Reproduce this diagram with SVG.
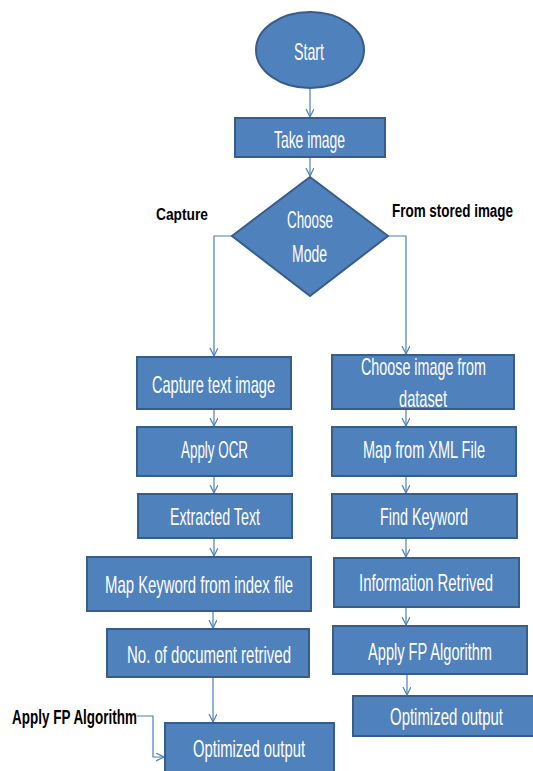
<svg xmlns="http://www.w3.org/2000/svg" width="533" height="771" viewBox="0 0 533 771">
<style>
.n{fill:#4F81BD;stroke:#385D8A;stroke-width:2}
.t{fill:#FFFFFF;font-family:"Liberation Sans Narrow","Liberation Sans",Arial,sans-serif;font-size:18px;text-anchor:middle}
.l{fill:#000000;font-family:"Liberation Sans Narrow","Liberation Sans",Arial,sans-serif;font-weight:bold}
.c{fill:none;stroke:#4A7EBB;stroke-width:1.2}
</style>
<defs>
<marker id="a" markerWidth="10" markerHeight="10" refX="8" refY="4" orient="auto" markerUnits="userSpaceOnUse">
<path d="M0,0 L8,4 L0,8" fill="none" stroke="#4A7EBB" stroke-width="1.2"/>
</marker>
</defs>
<rect width="533" height="771" fill="#FFFFFF"/>
<g id="connectors">
<path class="c" d="M310,88 V117" marker-end="url(#a)"/>
<path class="c" d="M310,157 V176" marker-end="url(#a)"/>
<path class="c" d="M232,236 H214 V356" marker-end="url(#a)"/>
<path class="c" d="M388,236 H406 V354" marker-end="url(#a)"/>
<path class="c" d="M214,409 V426" marker-end="url(#a)"/>
<path class="c" d="M406,409 V426" marker-end="url(#a)"/>
<path class="c" d="M214,476 V493" marker-end="url(#a)"/>
<path class="c" d="M406,476 V493" marker-end="url(#a)"/>
<path class="c" d="M214,538 V556" marker-end="url(#a)"/>
<path class="c" d="M406,538 V557" marker-end="url(#a)"/>
<path class="c" d="M213,611 V628" marker-end="url(#a)"/>
<path class="c" d="M406,607 V625" marker-end="url(#a)"/>
<path class="c" d="M213,677 V722" marker-end="url(#a)"/>
<path class="c" d="M407,674 V695" marker-end="url(#a)"/>
<path class="c" d="M137,716 H153 V757 H164" marker-end="url(#a)"/>
</g>
<g id="start"><ellipse class="n" cx="310" cy="50" rx="54" ry="38"/><text class="t" transform="translate(309,60) scale(1,1.3)" textLength="30" lengthAdjust="spacingAndGlyphs">Start</text></g>
<g id="take-image"><rect class="n" x="235" y="118" width="150" height="39"/><text class="t" transform="translate(309.5,148) scale(1,1.3)" textLength="71" lengthAdjust="spacingAndGlyphs">Take image</text></g>
<g id="choose-mode"><polygon class="n" points="310,177 388,236 310,296 232,236"/><text class="t" transform="translate(310,228) scale(1,1.3)" textLength="46" lengthAdjust="spacingAndGlyphs">Choose</text><text class="t" transform="translate(309.5,262) scale(1,1.3)" textLength="35" lengthAdjust="spacingAndGlyphs">Mode</text></g>
<g id="label-capture"><text class="l" transform="translate(156,220) scale(1,1.2)" font-size="14" textLength="52" lengthAdjust="spacingAndGlyphs">Capture</text></g>
<g id="label-stored"><text class="l" transform="translate(392,217) scale(1,1.25)" font-size="14.5" textLength="121" lengthAdjust="spacingAndGlyphs">From stored image</text></g>
<g id="capture-text-image"><rect class="n" x="137" y="357" width="154" height="52"/><text class="t" transform="translate(213.5,393) scale(1,1.3)" textLength="123" lengthAdjust="spacingAndGlyphs">Capture text image</text></g>
<g id="choose-dataset"><rect class="n" x="332" y="355" width="182" height="54"/><text class="t" transform="translate(423.5,375) scale(1,1.3)" textLength="125" lengthAdjust="spacingAndGlyphs">Choose image from</text><text class="t" transform="translate(423,407) scale(1,1.3)" textLength="48" lengthAdjust="spacingAndGlyphs">dataset</text></g>
<g id="apply-ocr"><rect class="n" x="137" y="427" width="155" height="49"/><text class="t" transform="translate(214.5,458) scale(1,1.3)" textLength="67" lengthAdjust="spacingAndGlyphs">Apply OCR</text></g>
<g id="map-xml"><rect class="n" x="332" y="427" width="184" height="49"/><text class="t" transform="translate(424,458) scale(1,1.3)" textLength="122" lengthAdjust="spacingAndGlyphs">Map from XML File</text></g>
<g id="extracted-text"><rect class="n" x="138" y="494" width="154" height="44"/><text class="t" transform="translate(215,525) scale(1,1.3)" textLength="90" lengthAdjust="spacingAndGlyphs">Extracted Text</text></g>
<g id="find-keyword"><rect class="n" x="332" y="494" width="185" height="44"/><text class="t" transform="translate(424,525) scale(1,1.3)" textLength="88" lengthAdjust="spacingAndGlyphs">Find Keyword</text></g>
<g id="map-keyword"><rect class="n" x="87" y="557" width="224" height="54"/><text class="t" transform="translate(199,593) scale(1,1.3)" textLength="188" lengthAdjust="spacingAndGlyphs">Map Keyword from index file</text></g>
<g id="info-retrived"><rect class="n" x="334" y="558" width="185" height="49"/><text class="t" transform="translate(426,591) scale(1,1.3)" textLength="134" lengthAdjust="spacingAndGlyphs">Information Retrived</text></g>
<g id="no-docs"><rect class="n" x="107" y="629" width="202" height="48"/><text class="t" transform="translate(209,663) scale(1,1.3)" textLength="164" lengthAdjust="spacingAndGlyphs">No. of document retrived</text></g>
<g id="apply-fp-right"><rect class="n" x="333" y="626" width="194" height="48"/><text class="t" transform="translate(430,660) scale(1,1.3)" textLength="124" lengthAdjust="spacingAndGlyphs">Apply FP Algorithm</text></g>
<g id="optimized-right"><rect class="n" x="353" y="696" width="186" height="40"/><text class="t" transform="translate(446.5,725) scale(1,1.3)" textLength="113" lengthAdjust="spacingAndGlyphs">Optimized output</text></g>
<g id="label-apply-fp"><text class="l" transform="translate(12,724) scale(1,1.3)" font-size="16" textLength="125" lengthAdjust="spacingAndGlyphs">Apply FP Algorithm</text></g>
<g id="optimized-left"><rect class="n" x="165" y="723" width="169" height="52"/><text class="t" transform="translate(249,757) scale(1,1.3)" textLength="112" lengthAdjust="spacingAndGlyphs">Optimized output</text></g>
</svg>
